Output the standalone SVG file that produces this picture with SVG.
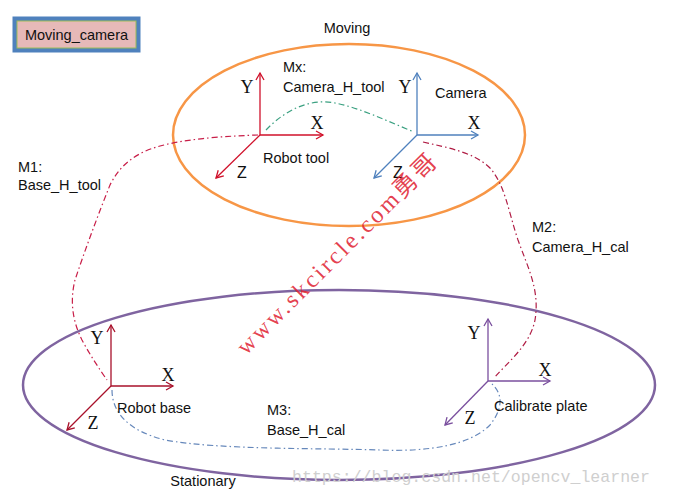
<svg xmlns="http://www.w3.org/2000/svg" width="690" height="502" viewBox="0 0 690 502">
<defs>
<style>
.lbl{font-family:"Liberation Sans",Arial,sans-serif;font-size:14.5px;fill:#111}
.ax{font-family:"Liberation Serif","Times New Roman",serif;font-size:18px;fill:#111}
.axs{font-family:"Liberation Sans",Arial,sans-serif;font-size:16px;fill:#111}
.dd{fill:none;stroke-width:1.2;stroke-dasharray:6 3 1.5 3}
</style>
<marker id="aR" markerWidth="10" markerHeight="10" refX="8" refY="5" orient="auto" markerUnits="userSpaceOnUse"><path d="M1,1 L8,5 L1,9" fill="none" stroke="#d0102a" stroke-width="1.3"/></marker>
<marker id="aB" markerWidth="10" markerHeight="10" refX="8" refY="5" orient="auto" markerUnits="userSpaceOnUse"><path d="M1,1 L8,5 L1,9" fill="none" stroke="#4f81bd" stroke-width="1.3"/></marker>
<marker id="aD" markerWidth="10" markerHeight="10" refX="8" refY="5" orient="auto" markerUnits="userSpaceOnUse"><path d="M1,1 L8,5 L1,9" fill="none" stroke="#a8102a" stroke-width="1.3"/></marker>
<marker id="aP" markerWidth="10" markerHeight="10" refX="8" refY="5" orient="auto" markerUnits="userSpaceOnUse"><path d="M1,1 L8,5 L1,9" fill="none" stroke="#7a4f9e" stroke-width="1.3"/></marker>
</defs>
<rect width="690" height="502" fill="#fff"/>

<g id="title">
<rect x="12.5" y="16.5" width="128" height="36" fill="#4f81bd"/>
<rect x="17" y="21" width="119" height="27" fill="#e6b9b8" stroke="#9bbb59" stroke-width="1"/>
<text class="lbl" x="76.5" y="40" text-anchor="middle" font-size="15">Moving_camera</text>
</g>

<g id="moving">
<ellipse cx="349" cy="135" rx="176" ry="91" fill="none" stroke="#f79646" stroke-width="2.5"/>
<text class="lbl" x="347" y="33" text-anchor="middle">Moving</text>
</g>

<g id="stationary">
<ellipse cx="339" cy="385" rx="316" ry="95" fill="none" stroke="#7f64a0" stroke-width="2.5"/>
<text class="lbl" x="203" y="486" text-anchor="middle">Stationary</text>
</g>

<g id="connectors">
<path class="dd" stroke="#c81e48" d="M258,135 C230,136 190,138 160,146 C135,153 120,165 110,185 C98,215 85,250 75,280 C70,300 72,320 82,340 C90,355 100,370 107,380"/>
<path class="dd" stroke="#3aa080" d="M266,130 C285,110 310,98 335,103 C360,108 385,120 414,132"/>
<path class="dd" stroke="#b01c44" d="M423,142 C450,148 475,153 490,168 C505,185 508,210 518,240 C528,268 540,290 535,320 C530,345 508,362 495,377"/>
<path class="dd" stroke="#6688bb" d="M112,390 C112,410 125,430 165,440 C220,450 320,448 380,450 C430,452 470,445 490,425 C502,410 504,395 492,384"/>
</g>

<g id="robot_tool">
<line x1="260" y1="135" x2="260" y2="73" stroke="#d0102a" stroke-width="1.3" marker-end="url(#aR)"/>
<line x1="260" y1="135" x2="323" y2="135" stroke="#d0102a" stroke-width="1.3" marker-end="url(#aR)"/>
<line x1="260" y1="135" x2="216" y2="178" stroke="#d0102a" stroke-width="1.3" marker-end="url(#aR)"/>
<text class="ax" x="247" y="93" text-anchor="middle">Y</text>
<text class="ax" x="317" y="129" text-anchor="middle">X</text>
<text class="axs" x="242" y="178" text-anchor="middle">Z</text>
<text class="lbl" x="263" y="163">Robot tool</text>
</g>

<g id="camera">
<line x1="417" y1="135" x2="417" y2="73" stroke="#4f81bd" stroke-width="1.3" marker-end="url(#aB)"/>
<line x1="417" y1="135" x2="478" y2="135" stroke="#4f81bd" stroke-width="1.3" marker-end="url(#aB)"/>
<line x1="417" y1="135" x2="374" y2="178" stroke="#4f81bd" stroke-width="1.3" marker-end="url(#aB)"/>
<text class="ax" x="405" y="93" text-anchor="middle">Y</text>
<text class="ax" x="474" y="129" text-anchor="middle">X</text>
<text class="axs" x="398" y="178" text-anchor="middle">Z</text>
<text class="lbl" x="435" y="98">Camera</text>
</g>

<g id="mx">
<text class="lbl" x="283" y="72">Mx:</text>
<text class="lbl" x="283" y="92">Camera_H_tool</text>
</g>

<g id="m1">
<text class="lbl" x="18" y="172">M1:</text>
<text class="lbl" x="18" y="190">Base_H_tool</text>
</g>

<g id="m2">
<text class="lbl" x="532" y="232">M2:</text>
<text class="lbl" x="532" y="252">Camera_H_cal</text>
</g>

<g id="m3">
<text class="lbl" x="267" y="415">M3:</text>
<text class="lbl" x="267" y="435">Base_H_cal</text>
</g>

<g id="robot_base">
<line x1="111" y1="386" x2="111" y2="325" stroke="#a8102a" stroke-width="1.3" marker-end="url(#aD)"/>
<line x1="111" y1="386" x2="173" y2="386" stroke="#a8102a" stroke-width="1.3" marker-end="url(#aD)"/>
<line x1="111" y1="386" x2="67" y2="430" stroke="#a8102a" stroke-width="1.3" marker-end="url(#aD)"/>
<text class="ax" x="97" y="344" text-anchor="middle">Y</text>
<text class="ax" x="168" y="381" text-anchor="middle">X</text>
<text class="ax" x="93" y="429" text-anchor="middle">Z</text>
<text class="lbl" x="117" y="413">Robot base</text>
</g>

<g id="calibrate_plate">
<line x1="488" y1="381" x2="488" y2="319" stroke="#7a4f9e" stroke-width="1.3" marker-end="url(#aP)"/>
<line x1="488" y1="381" x2="550" y2="381" stroke="#7a4f9e" stroke-width="1.3" marker-end="url(#aP)"/>
<line x1="488" y1="381" x2="445" y2="425" stroke="#7a4f9e" stroke-width="1.3" marker-end="url(#aP)"/>
<text class="ax" x="474" y="339" text-anchor="middle">Y</text>
<text class="ax" x="545" y="376" text-anchor="middle">X</text>
<text class="ax" x="470" y="424" text-anchor="middle">Z</text>
<text class="lbl" x="494" y="411">Calibrate plate</text>
</g>

<g id="watermarks">
<text x="0" y="0" transform="translate(246,356) rotate(-45)" font-family="'Liberation Serif','Noto Sans CJK SC',serif" font-size="24" fill="#e02030" fill-opacity="0.85" textLength="272" lengthAdjust="spacing">www.skcircle.com勇哥</text>
<text x="292" y="482" font-family="'Liberation Mono','Courier New',monospace" font-size="17" fill="#cfcfcf" textLength="358" lengthAdjust="spacingAndGlyphs">https://blog.csdn.net/opencv_learner</text>
</g>
</svg>
